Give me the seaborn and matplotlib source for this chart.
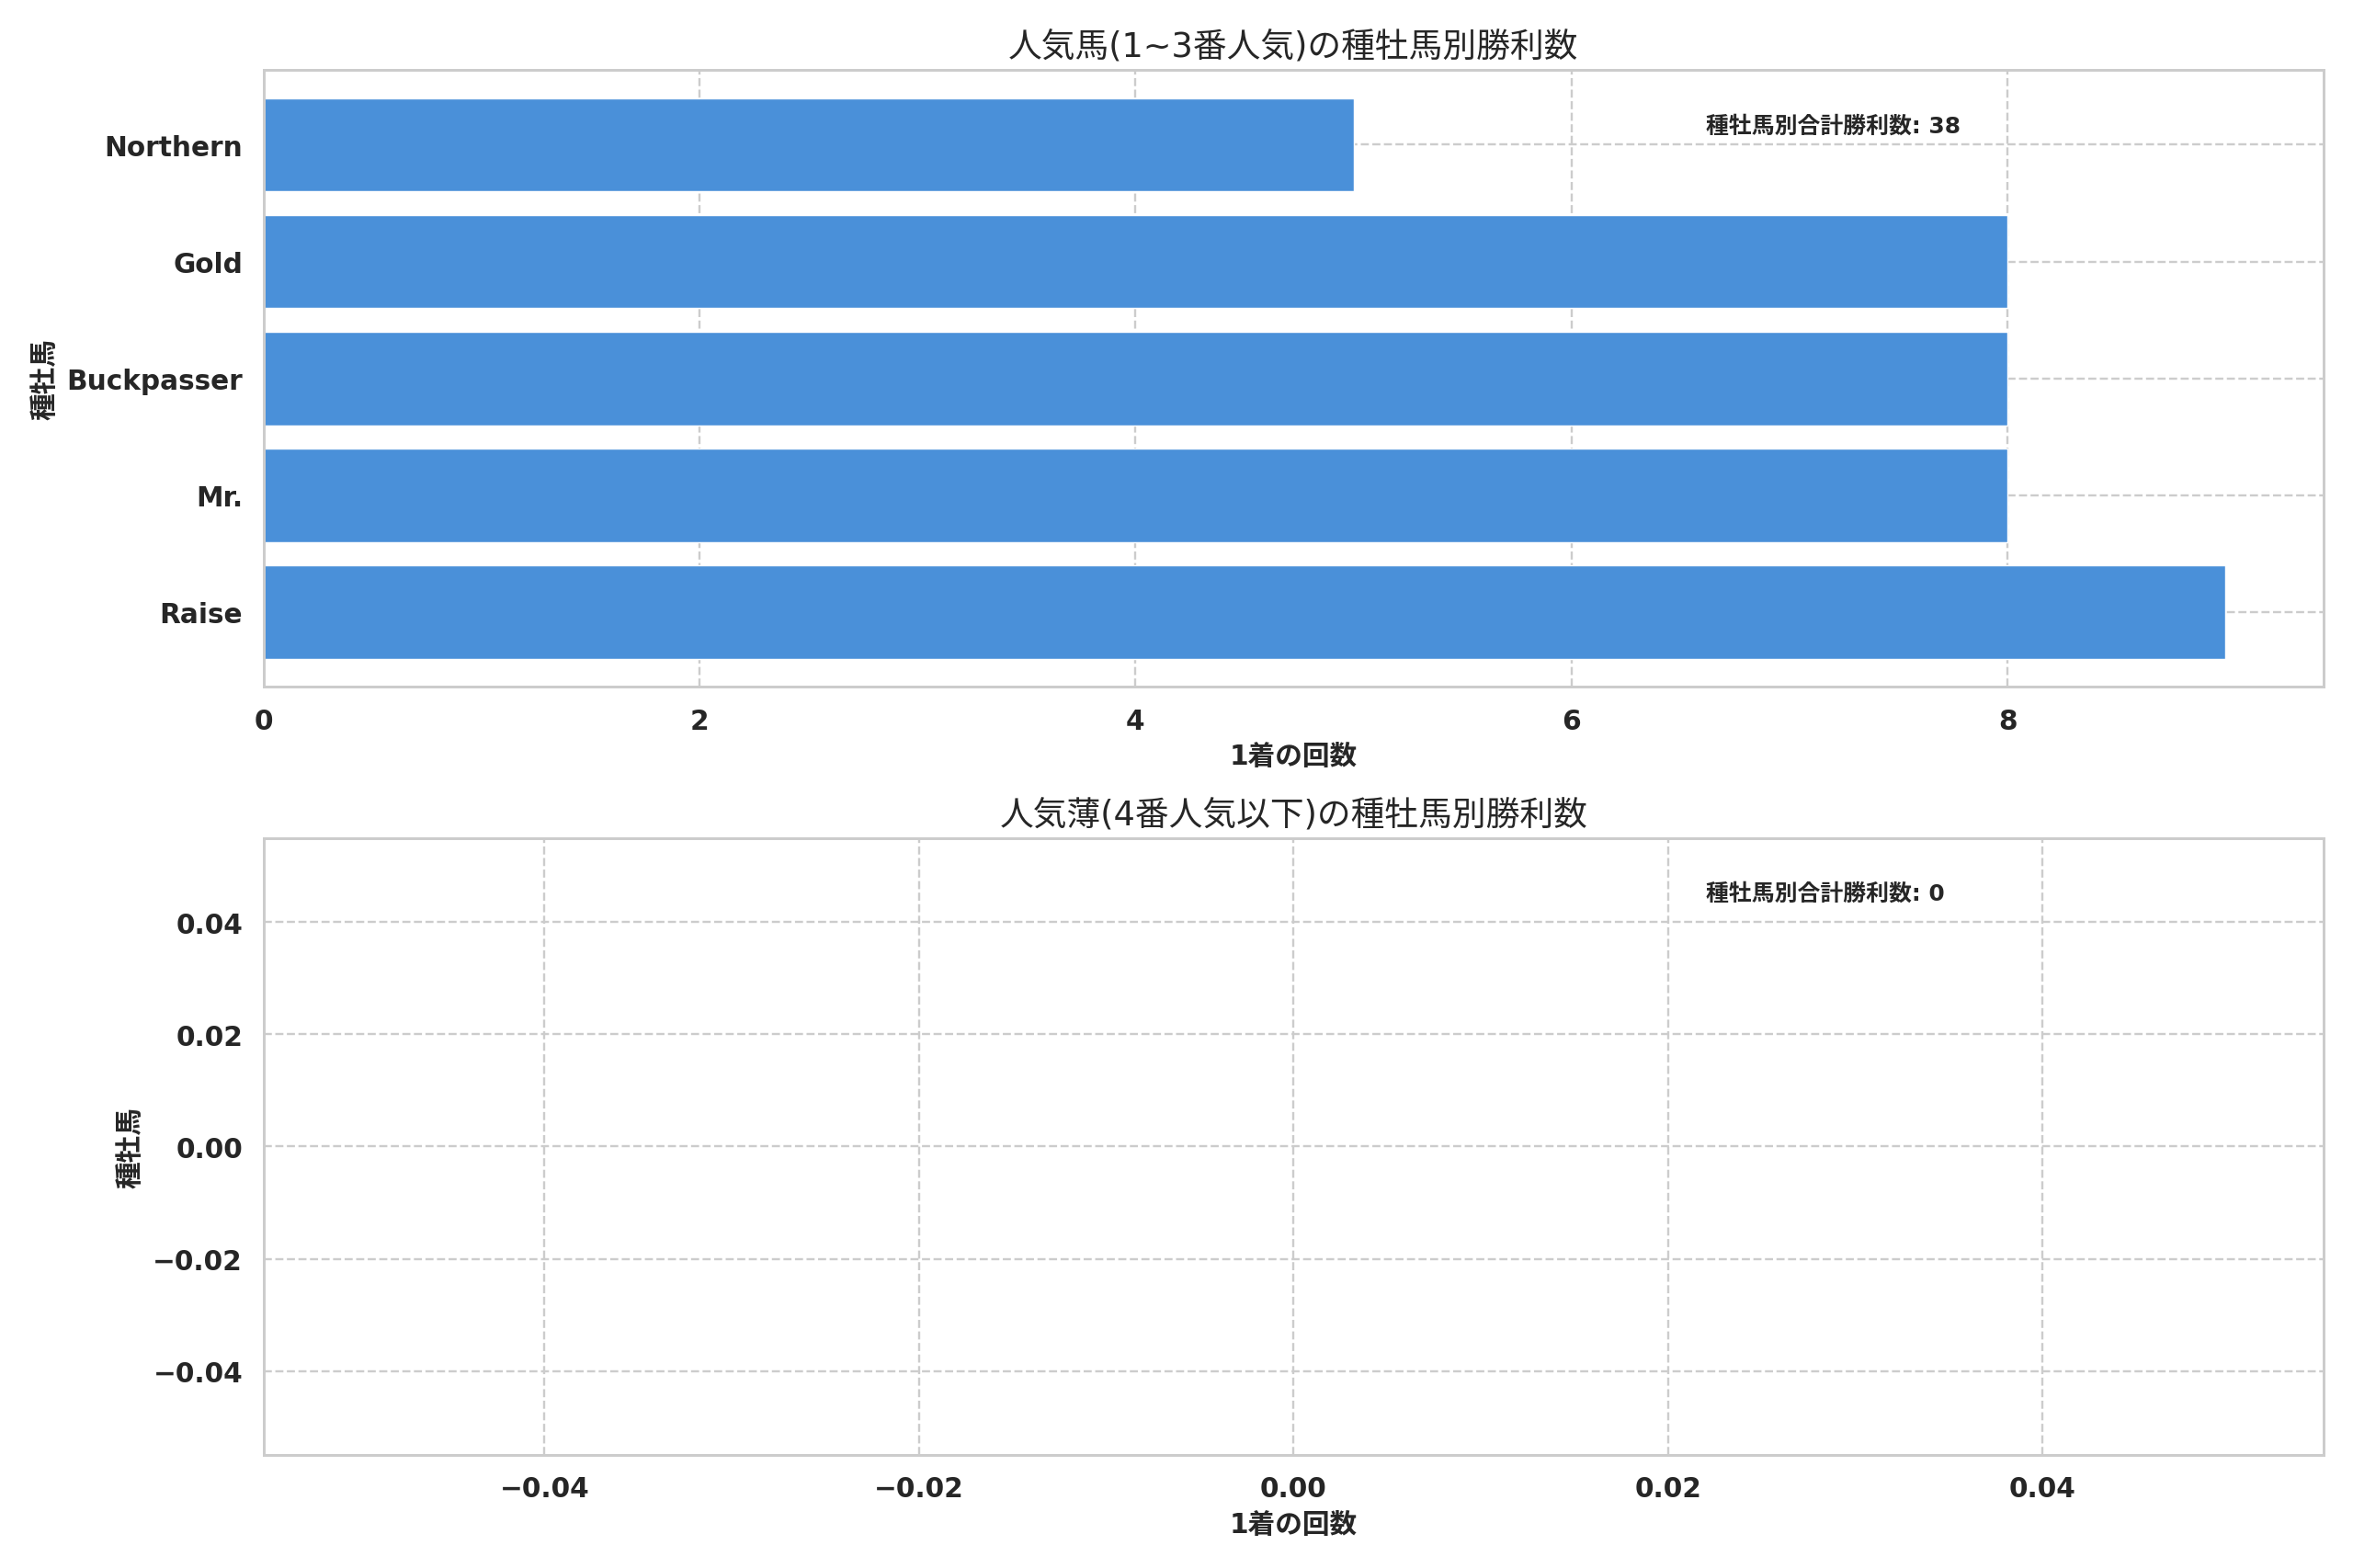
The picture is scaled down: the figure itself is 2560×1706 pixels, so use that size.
import matplotlib
matplotlib.use("Agg")
import matplotlib.pyplot as plt
import seaborn as sns
import pandas as pd

# data
sires_top = ["Northern", "Gold", "Buckpasser", "Mr.", "Raise"]
wins_top = [5, 8, 8, 8, 9]
sires_bottom = []
wins_bottom = []

title_top = "人気馬(1~3番人気)の種牡馬別勝利数"
title_bottom = "人気薄(4番人気以下)の種牡馬別勝利数"
xlabel = "1着の回数"
ylabel = "種牡馬"
total_label = "種牡馬別合計勝利数"

sns.set_theme(style="whitegrid")
plt.rcParams['font.family'] = ['DejaVu Sans', 'Noto Sans CJK JP']
plt.rcParams['grid.linestyle'] = '--'

bar_color = "#4a90d9"

fig, axes = plt.subplots(2, 1, figsize=(15, 10), dpi=170.67)
fig.subplots_adjust(left=0.112, right=0.9875, top=0.955, bottom=0.072, hspace=0.245)

# ---- top: favourites ----
ax = axes[0]
df_top = pd.DataFrame({"sire": sires_top, "wins": wins_top})
sns.barplot(data=df_top, x="wins", y="sire", orient="h", color=bar_color,
            saturation=1, width=0.8, edgecolor="white", linewidth=0.6, ax=ax)
ax.set_ylim(len(sires_top) - 0.5 + 0.14, -0.64)
ax.set_xlim(0, max(wins_top) * 1.05)
ax.set_axisbelow(True)
ax.grid(True, linestyle='--', color='#cccccc')
ax.set_title(title_top, fontsize=15.5)
ax.set_xlabel(xlabel, fontsize=12.5, fontweight='bold')
ax.set_ylabel(ylabel, fontsize=12.5, fontweight='bold')
ax.text(0.70, 0.91, f"{total_label}: {sum(wins_top)}", transform=ax.transAxes,
        ha='left', va='center', fontsize=10.5, fontweight='bold', color='#262626')

# ---- bottom: longshots (no data) ----
ax = axes[1]
ax.barh(sires_bottom, wins_bottom, color=bar_color)
ax.set_xlim(-0.055, 0.055)
ax.set_ylim(-0.055, 0.055)
ax.set_xticks([-0.04, -0.02, 0.0, 0.02, 0.04])
ax.set_yticks([-0.04, -0.02, 0.0, 0.02, 0.04])
ax.set_axisbelow(True)
ax.grid(True, linestyle='--', color='#cccccc')
ax.set_title(title_bottom, fontsize=15.5)
ax.set_xlabel(xlabel, fontsize=12.5, fontweight='bold')
ax.set_ylabel(ylabel, fontsize=12.5, fontweight='bold')
ax.text(0.70, 0.91, f"{total_label}: {sum(wins_bottom)}", transform=ax.transAxes,
        ha='left', va='center', fontsize=10.5, fontweight='bold', color='#262626')

for a in axes:
    for lbl in a.get_xticklabels() + a.get_yticklabels():
        lbl.set_fontweight('bold')
        lbl.set_fontsize(12.5)
    for sp in a.spines.values():
        sp.set_color('#cccccc')

fig.savefig("out.png", dpi=170.67)
